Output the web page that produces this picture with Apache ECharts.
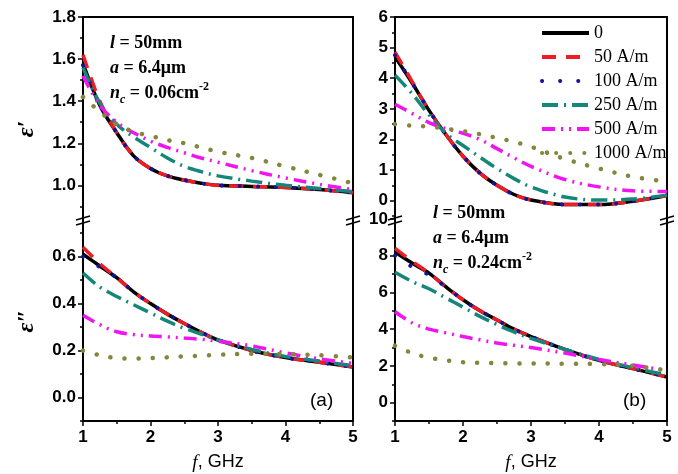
<!DOCTYPE html>
<html>
<head>
<meta charset="utf-8">
<script src="https://cdn.jsdelivr.net/npm/echarts@6/dist/echarts.min.js"></script>
<style>
html, body { margin: 0; padding: 0; background: #fff; }
#main { width: 678px; height: 474px; }
</style>
</head>
<body>
<div id="main"></div>
<script>
// frequency samples (GHz), shared by all panels
var freq = [1, 1.25, 1.5, 1.75, 2, 2.25, 2.5, 2.75, 3, 3.5, 4, 4.5, 5];
var fieldNames = ['0', '50 A/m', '100 A/m', '250 A/m', '500 A/m', '1000 A/m'];

// (a) real part, one row per field
var reA = [
	[1.58, 1.38, 1.25, 1.14, 1.08, 1.045, 1.025, 1.01, 1.0, 0.995, 0.99, 0.98, 0.965],
	[1.62, 1.40, 1.25, 1.14, 1.08, 1.045, 1.025, 1.01, 1.0, 0.995, 0.99, 0.98, 0.965],
	[1.57, 1.38, 1.25, 1.14, 1.08, 1.045, 1.025, 1.01, 1.0, 0.995, 0.99, 0.98, 0.965],
	[1.56, 1.39, 1.29, 1.23, 1.18, 1.13, 1.09, 1.065, 1.045, 1.02, 1.0, 0.985, 0.97],
	[1.52, 1.38, 1.30, 1.25, 1.21, 1.18, 1.155, 1.13, 1.11, 1.07, 1.035, 1.005, 0.98],
	[1.42, 1.35, 1.29, 1.255, 1.235, 1.215, 1.20, 1.18, 1.16, 1.13, 1.09, 1.05, 1.01]
];
// (a) imaginary part
var imA = [
	[0.61, 0.56, 0.51, 0.45, 0.40, 0.355, 0.315, 0.278, 0.245, 0.20, 0.17, 0.15, 0.13],
	[0.64, 0.57, 0.51, 0.45, 0.40, 0.355, 0.315, 0.278, 0.245, 0.20, 0.17, 0.15, 0.13],
	[0.60, 0.555, 0.51, 0.45, 0.40, 0.355, 0.315, 0.278, 0.245, 0.20, 0.17, 0.15, 0.13],
	[0.53, 0.47, 0.43, 0.395, 0.36, 0.325, 0.295, 0.27, 0.245, 0.205, 0.175, 0.155, 0.135],
	[0.35, 0.31, 0.28, 0.268, 0.262, 0.258, 0.253, 0.248, 0.24, 0.22, 0.19, 0.165, 0.145],
	[0.20, 0.18, 0.168, 0.166, 0.168, 0.171, 0.175, 0.178, 0.182, 0.186, 0.185, 0.18, 0.17]
];
// (b) real part
var reB = [
	[4.7, 3.85, 2.95, 2.15, 1.45, 0.9, 0.5, 0.2, 0.02, -0.13, -0.13, -0.02, 0.17],
	[4.85, 3.9, 2.95, 2.15, 1.45, 0.9, 0.5, 0.2, 0.02, -0.13, -0.13, -0.02, 0.17],
	[4.75, 3.85, 2.95, 2.15, 1.45, 0.9, 0.5, 0.2, 0.02, -0.13, -0.13, -0.02, 0.17],
	[4.1, 3.5, 2.8, 2.2, 1.8, 1.42, 1.05, 0.72, 0.45, 0.12, 0.02, 0.05, 0.18],
	[3.15, 2.85, 2.55, 2.35, 2.2, 2.0, 1.7, 1.4, 1.12, 0.69, 0.45, 0.32, 0.3],
	[2.5, 2.45, 2.42, 2.35, 2.27, 2.17, 2.05, 1.92, 1.76, 1.36, 1.05, 0.78, 0.62]
];
// (b) imaginary part
var imB = [
	[8.2, 7.6, 7.05, 6.3, 5.6, 5.0, 4.5, 4.0, 3.6, 2.9, 2.3, 1.85, 1.4],
	[8.4, 7.7, 7.05, 6.3, 5.6, 5.0, 4.5, 4.0, 3.6, 2.9, 2.3, 1.85, 1.4],
	[8.0, 7.4, 6.95, 6.3, 5.6, 5.0, 4.5, 4.0, 3.6, 2.9, 2.3, 1.85, 1.4],
	[7.1, 6.6, 6.2, 5.7, 5.2, 4.7, 4.25, 3.85, 3.5, 2.9, 2.35, 1.9, 1.5],
	[4.95, 4.35, 4.0, 3.8, 3.6, 3.42, 3.25, 3.12, 3.0, 2.7, 2.35, 2.05, 1.75],
	[3.1, 2.7, 2.45, 2.3, 2.2, 2.17, 2.15, 2.14, 2.13, 2.12, 2.1, 2.0, 1.75]
];

// tick labels
var reATicks = [1.0, 1.2, 1.4, 1.6, 1.8];
var reAMinor = [0.9, 1.1, 1.3, 1.5, 1.7];
var imATicks = [0.0, 0.2, 0.4, 0.6];
var imAMinor = [-0.1, 0.1, 0.3, 0.5, 0.7];
var reBTicks = [0, 1, 2, 3, 4, 5, 6];
var reBMinor = [-0.5, 0.5, 1.5, 2.5, 3.5, 4.5, 5.5];
var imBTicks = [0, 2, 4, 6, 8, 10];
var imBMinor = [-1, 1, 3, 5, 7, 9];

var lineStyles = [
	{ color: '#000000', width: 3.5, type: 'solid' },
	{ color: '#ee1c24', width: 3.5, type: [14, 10] },
	{ color: '#14149a', width: 4, type: [0.1, 18], cap: 'round' },
	{ color: '#14877a', width: 3.5, type: [16, 6, 2, 6] },
	{ color: '#f014f0', width: 3.5, type: [13, 6, 2, 6, 2, 6] },
	{ color: '#85853c', width: 4.5, type: [0.1, 14], cap: 'round' }
];

var grids = [
	{ left: 83, top: 17, width: 270, height: 202 },
	{ left: 83, top: 219, width: 270, height: 202 },
	{ left: 395, top: 17, width: 272, height: 202 },
	{ left: 395, top: 219, width: 272, height: 202 }
];

var panels = [
	{ rows: reA, min: 0.84, max: 1.8, ticks: reATicks, minor: reAMinor, dec: 1, top: true },
	{ rows: imA, min: -0.1, max: 0.76, ticks: imATicks, minor: imAMinor, dec: 1, top: false },
	{ rows: reB, min: -0.6, max: 6, ticks: reBTicks, minor: reBMinor, dec: 0, top: true },
	{ rows: imB, min: -1, max: 10, ticks: imBTicks, minor: imBMinor, dec: 0, top: false }
];

var black = '#000';
var tickFont = { fontFamily: 'Liberation Sans', fontWeight: 'bold', fontSize: 17, color: black };

var xAxes = [], yAxes = [], series = [];

// x axes: top panels only keep the frame line on top
panels.forEach(function(p, i) {
	xAxes.push({
		type: 'value', gridIndex: i, min: 1, max: 5, interval: 1,
		position: p.top ? 'top' : 'bottom',
		axisLine: { show: true, onZero: false, lineStyle: { color: black, width: 2 } },
		axisTick: { show: !p.top, length: 5, lineStyle: { color: black, width: 1.5 } },
		minorTick: { show: !p.top, splitNumber: 2, length: 3, lineStyle: { color: black, width: 1.5 } },
		axisLabel: Object.assign({ show: !p.top, margin: 8 }, tickFont),
		splitLine: { show: false },
		minorSplitLine: { show: false },
		name: p.top ? '' : '{i|f}, GHz',
		nameLocation: 'middle',
		nameGap: 32,
		nameTextStyle: {
			fontFamily: 'Liberation Sans', fontSize: 18, color: black,
			rich: { i: { fontFamily: 'Liberation Serif', fontStyle: 'italic', fontSize: 19, color: black } }
		}
	});
});

// main y axes first (index = panel index)
panels.forEach(function(p, i) {
	yAxes.push({
		type: 'value', gridIndex: i, min: p.min, max: p.max, position: 'left',
		axisLine: { show: true, onZero: false, lineStyle: { color: black, width: 2 } },
		axisTick: { show: true, customValues: p.ticks, length: 5, lineStyle: { color: black, width: 1.5 } },
		axisLabel: Object.assign({
			customValues: p.ticks, margin: 7,
			formatter: function(v) { return v.toFixed(p.dec); }
		}, tickFont),
		splitLine: { show: false }
	});
});
// minor ticks and right border
panels.forEach(function(p, i) {
	yAxes.push({
		type: 'value', gridIndex: i, min: p.min, max: p.max, position: 'left',
		axisLine: { show: false },
		axisTick: { show: true, customValues: p.minor, length: 3, lineStyle: { color: black, width: 1.5 } },
		axisLabel: { show: false },
		splitLine: { show: false }
	});
	yAxes.push({
		type: 'value', gridIndex: i, min: p.min, max: p.max, position: 'right',
		axisLine: { show: true, onZero: false, lineStyle: { color: black, width: 2 } },
		axisTick: { show: false },
		axisLabel: { show: false },
		splitLine: { show: false }
	});
});

panels.forEach(function(p, i) {
	p.rows.forEach(function(row, k) {
		series.push({
			type: 'line',
			name: fieldNames[k],
			xAxisIndex: i,
			yAxisIndex: i,
			smooth: 0.35,
			symbol: 'none',
			silent: true,
			z: 2 + k,
			itemStyle: { color: lineStyles[k].color },
			lineStyle: lineStyles[k],
			data: freq.map(function(f, j) { return [f, row[j]]; })
		});
	});
});

// break marks on the vertical axes
function breakMark(x, y) {
	var st = { stroke: black, lineWidth: 1.5 };
	return [
		{ type: 'line', shape: { x1: x - 7, y1: y + 1, x2: x + 7, y2: y - 3 }, style: st, z: 100 },
		{ type: 'line', shape: { x1: x - 7, y1: y + 6, x2: x + 7, y2: y + 2 }, style: st, z: 100 }
	];
}

var annoRich = {
	i: { fontStyle: 'italic', fontWeight: 'bold', fontFamily: 'Liberation Serif', fontSize: 18, lineHeight: 25 },
	s: { fontStyle: 'italic', fontWeight: 'bold', fontFamily: 'Liberation Serif', fontSize: 12, lineHeight: 12, verticalAlign: 'bottom' },
	p: { fontWeight: 'bold', fontFamily: 'Liberation Serif', fontSize: 12, lineHeight: 12, verticalAlign: 'top' }
};

function annotation(x, y, nc) {
	return {
		type: 'text', x: x, y: y, z: 50,
		style: {
			text: '{i|l} = 50mm\n{i|a} = 6.4μm\n{i|n}{s|c} = ' + nc + 'cm{p|-2}',
			fontFamily: 'Liberation Serif', fontWeight: 'bold', fontSize: 18, lineHeight: 25,
			fill: black, rich: annoRich
		}
	};
}

var graphics = [
	annotation(110, 31, '0.06'),
	annotation(433, 201, '0.24'),
	{ type: 'text', x: 310, y: 391, style: { text: '(a)', fontFamily: 'Liberation Sans', fontSize: 19, fill: black } },
	{ type: 'text', x: 623, y: 391, style: { text: '(b)', fontFamily: 'Liberation Sans', fontSize: 19, fill: black } },
	{ type: 'text', x: 27, y: 129, rotation: Math.PI / 2,
		style: { text: 'ε′', fontFamily: 'Liberation Serif', fontStyle: 'italic', fontWeight: 'bold', fontSize: 24, fill: black, align: 'center', verticalAlign: 'middle' } },
	{ type: 'text', x: 27, y: 321, rotation: Math.PI / 2,
		style: { text: 'ε″', fontFamily: 'Liberation Serif', fontStyle: 'italic', fontWeight: 'bold', fontSize: 24, fill: black, align: 'center', verticalAlign: 'middle' } }
];
[grids[0].left, grids[0].left + grids[0].width, grids[2].left, grids[2].left + grids[2].width].forEach(function(x) {
	graphics = graphics.concat(breakMark(x, 219));
});

var chart = echarts.init(document.getElementById('main'));
chart.setOption({
	animation: false,
	backgroundColor: '#fff',
	grid: grids,
	xAxis: xAxes,
	yAxis: yAxes,
	legend: {
		orient: 'vertical',
		left: 535,
		top: 19,
		itemWidth: 47,
		itemHeight: 14,
		itemGap: 6,
		selectedMode: false,
		data: fieldNames,
		itemStyle: { opacity: 0 },
		lineStyle: { width: 4 },
		textStyle: { fontFamily: 'Liberation Serif', fontSize: 18, lineHeight: 18, color: black }
	},
	series: series,
	graphic: graphics
});
</script>
</body>
</html>
